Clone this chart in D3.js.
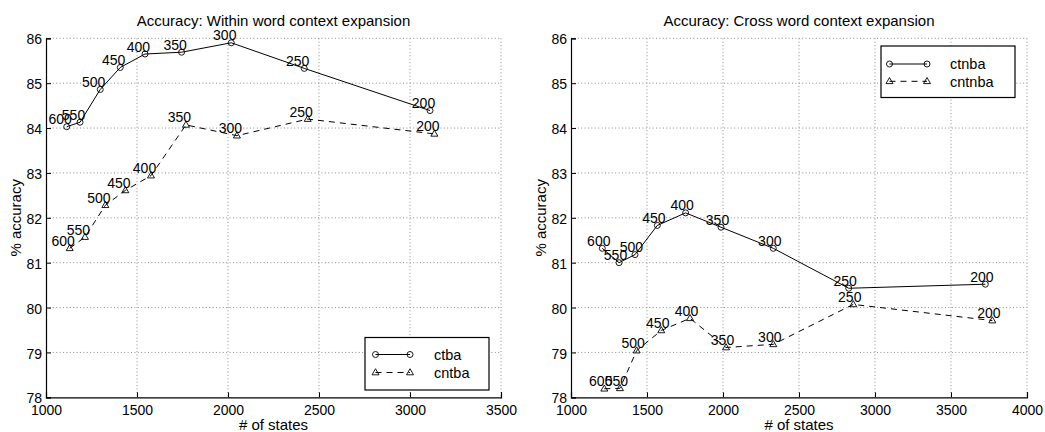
<!DOCTYPE html>
<html>
<head>
<meta charset="utf-8">
<script src="https://cdn.jsdelivr.net/npm/d3@7"></script>
<style>
  html, body { margin: 0; padding: 0; background: #fff; }
  svg { display: block; font-family: "Liberation Sans", Arial, Helvetica, sans-serif; }
</style>
</head>
<body>
<svg id="chart" width="1045" height="432"></svg>
<script>
// Number of Gaussians per state used as point labels
const stateLabels = [600, 550, 500, 450, 400, 350, 300, 250, 200];

// Within word context expansion
const withinCtbaStates  = [1114, 1187, 1298, 1408, 1544, 1745, 2018, 2419, 3110];
const withinCtbaAcc     = [84.03, 84.13, 84.86, 85.35, 85.65, 85.69, 85.90, 85.33, 84.39];
const withinCntbaStates = [1130, 1214, 1326, 1436, 1577, 1769, 2049, 2438, 3134];
const withinCntbaAcc    = [81.32, 81.57, 82.28, 82.61, 82.94, 84.07, 83.83, 84.20, 83.87];

// Cross word context expansion
const crossCtnbaStates  = [1206, 1316, 1421, 1568, 1754, 1987, 2331, 2827, 3726];
const crossCtnbaAcc     = [81.32, 81.00, 81.18, 81.83, 82.11, 81.79, 81.32, 80.43, 80.52];
const crossCntnbaStates = [1219, 1322, 1432, 1594, 1783, 2020, 2331, 2857, 3772];
const crossCntnbaAcc    = [78.19, 78.20, 79.04, 79.49, 79.76, 79.11, 79.18, 80.07, 79.71];

// Axis ticks
const yTicks = [78, 79, 80, 81, 82, 83, 84, 85, 86];
const xTicksWithin = [1000, 1500, 2000, 2500, 3000, 3500];
const xTicksCross  = [1000, 1500, 2000, 2500, 3000, 3500, 4000];

const svg = d3.select("#chart");

function triangle(cx, cy, s) {
  const h = s * 0.866;
  return `M${cx},${cy - h * 0.62}L${cx + s / 2},${cy + h * 0.38}L${cx - s / 2},${cy + h * 0.38}Z`;
}

function drawMarker(g, kind, x, y) {
  if (kind === "circle") {
    g.append("circle").attr("cx", x).attr("cy", y).attr("r", 3)
      .attr("fill", "none").attr("stroke", "#000").attr("stroke-width", 0.9);
  } else {
    g.append("path").attr("d", triangle(x, y, 7))
      .attr("fill", "none").attr("stroke", "#000").attr("stroke-width", 0.9);
  }
}

function drawPanel(cfg) {
  const { left, right, top, bottom } = cfg.box;
  const x = d3.scaleLinear().domain(cfg.xDomain).range([left, right]);
  const y = d3.scaleLinear().domain([78, 86]).range([bottom, top]);
  const g = svg.append("g");

  // dotted grid
  const grid = g.append("g").attr("stroke", "#8f8f8f").attr("stroke-width", 1)
    .attr("stroke-dasharray", "1,2.4");
  cfg.xTicks.forEach(t => {
    if (t === cfg.xDomain[0]) return;
    grid.append("line").attr("x1", x(t)).attr("x2", x(t)).attr("y1", top).attr("y2", bottom);
  });
  yTicks.forEach(t => {
    if (t === 78) return;
    grid.append("line").attr("x1", left).attr("x2", right).attr("y1", y(t)).attr("y2", y(t));
  });

  // axes with inward ticks
  const xAxis = d3.axisBottom(x).tickValues(cfg.xTicks).tickSize(-5).tickPadding(8)
    .tickFormat(d3.format("d"));
  const gx = g.append("g").attr("transform", `translate(0,${bottom})`).call(xAxis);
  const yAxis = d3.axisLeft(y).tickValues(yTicks).tickSize(-5).tickPadding(9)
    .tickFormat(d3.format("d"));
  const gy = g.append("g").attr("transform", `translate(${left},0)`).call(yAxis);
  [gx, gy].forEach(a => {
    a.select(".domain").attr("stroke", "#000").attr("stroke-width", 1.2);
    a.selectAll(".tick line").attr("stroke", "#000").attr("stroke-width", 1);
    a.selectAll(".tick text").attr("fill", "#000").style("font-size", "14px")
      .style("font-family", "Liberation Sans, Arial, sans-serif");
  });
  gx.selectAll(".tick text").attr("dy", "0.71em");
  gy.selectAll(".tick text").attr("x", -4).attr("dy", "0.4em");

  // titles
  g.append("text").attr("x", (left + right) / 2).attr("y", 26).attr("text-anchor", "middle")
    .style("font-size", "15px").text(cfg.title);
  g.append("text").attr("x", (left + right) / 2).attr("y", 430).attr("text-anchor", "middle")
    .style("font-size", "15px").text("# of states");
  g.append("text").attr("transform", `translate(${left - 25},${(top + bottom) / 2}) rotate(-90)`)
    .attr("text-anchor", "middle").style("font-size", "15px").text("% accuracy");

  // series
  cfg.series.forEach(s => {
    const pts = s.states.map((v, i) => [v, s.acc[i]]);
    g.append("path").datum(pts)
      .attr("d", d3.line().x(d => x(d[0])).y(d => y(d[1])))
      .attr("fill", "none").attr("stroke", "#000").attr("stroke-width", 1)
      .attr("stroke-dasharray", s.dashed ? "6,5" : null);
    pts.forEach(p => drawMarker(g, s.marker, x(p[0]), y(p[1])));
    pts.forEach((p, i) => {
      g.append("text").attr("x", x(p[0] - 100)).attr("y", y(p[1]) - 2.5)
        .style("font-size", "14px").text(stateLabels[i]);
    });
  });

  // legend
  const L = cfg.legend;
  const lg = g.append("g").attr("transform", `translate(${L.x},${L.y})`);
  lg.append("rect").attr("width", L.w).attr("height", L.h)
    .attr("fill", "#fff").attr("stroke", "#000").attr("stroke-width", 1.2);
  cfg.series.forEach((s, i) => {
    const ry = L.row0 + i * L.rowGap;
    lg.append("line").attr("x1", L.lx0).attr("x2", L.lx1).attr("y1", ry).attr("y2", ry)
      .attr("stroke", "#000").attr("stroke-width", 1)
      .attr("stroke-dasharray", s.dashed ? "6,5" : null);
    drawMarker(lg, s.marker, L.lx0, ry);
    drawMarker(lg, s.marker, L.lx1, ry);
    lg.append("text").attr("x", L.tx).attr("y", ry).attr("dy", "0.36em")
      .style("font-size", "14.5px").text(s.name);
  });
}

drawPanel({
  title: "Accuracy: Within word context expansion",
  box: { left: 46, right: 501, top: 38.3, bottom: 397.3 },
  xDomain: [1000, 3500],
  xTicks: xTicksWithin,
  series: [
    { name: "ctba",  states: withinCtbaStates,  acc: withinCtbaAcc,  marker: "circle",   dashed: false },
    { name: "cntba", states: withinCntbaStates, acc: withinCntbaAcc, marker: "triangle", dashed: true }
  ],
  legend: { x: 365, y: 337.5, w: 124, h: 52.5, row0: 17, rowGap: 18, lx0: 10.5, lx1: 45, tx: 69 }
});

drawPanel({
  title: "Accuracy: Cross word context expansion",
  box: { left: 571, right: 1027, top: 38.3, bottom: 397.3 },
  xDomain: [1000, 4000],
  xTicks: xTicksCross,
  series: [
    { name: "ctnba",  states: crossCtnbaStates,  acc: crossCtnbaAcc,  marker: "circle",   dashed: false },
    { name: "cntnba", states: crossCntnbaStates, acc: crossCntnbaAcc, marker: "triangle", dashed: true }
  ],
  legend: { x: 881, y: 46, w: 134, h: 51.5, row0: 18, rowGap: 17.3, lx0: 8.5, lx1: 46, tx: 69 }
});
</script>
</body>
</html>
